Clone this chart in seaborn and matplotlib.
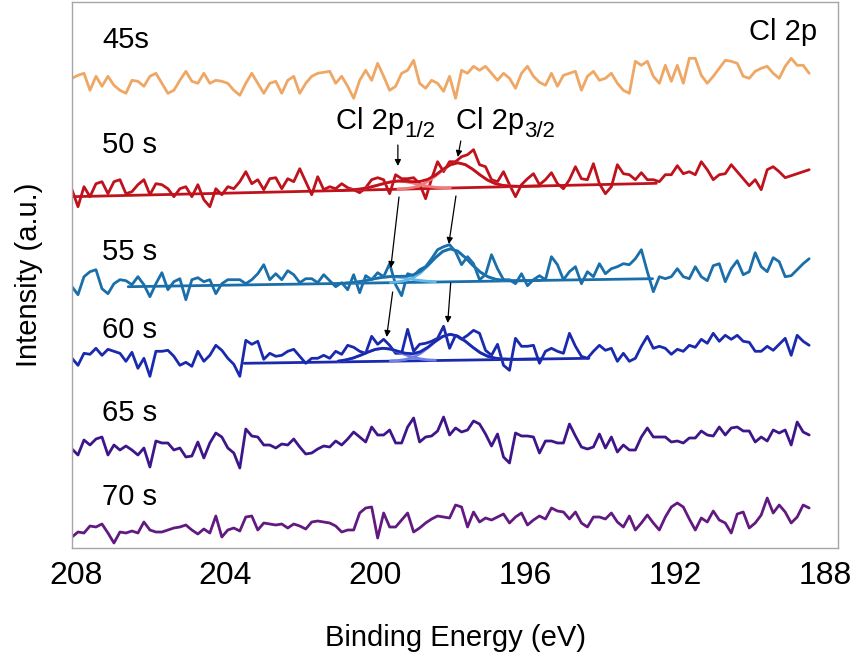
import numpy as np
import matplotlib
matplotlib.use("Agg")
import matplotlib.pyplot as plt
import seaborn as sns

# binding energy grid of the spectra (eV)
energy = np.round(208.1 - 0.16 * np.arange(124), 2)

# stacked spectra, counts above each trace's reference level (a.u.)
s45 = [5, 8, 10, -7, 7, -3, 7, -2, -7, -10, 3, 2, -3, 7, 10, 0, -10, -7, 3, 12, 2, 0, 10, 0, 3, 2, 0, -7, -12, 0,
       10, 0, -10, 0, 2, -10, 3, 7, -10, 0, 7, 10, 11, 12, 0, 7, -3, -15, 3, 13, 3, 20, 7, -7, -3, 10, 13, 23, 0, -5,
       3, 0, -8, 7, -15, 13, 10, 17, 13, 17, 10, 3, 10, 5, -5, 10, 17, 7, 1, -2, 10, -3, 8, 10, 12, -7, 7, 12, 3, 5,
       10, 0, -7, -10, 22, 18, 22, 7, 0, 18, 2, 18, 0, 25, 25, 8, 0, 7, 15, 23, 22, 20, 7, 5, 12, 15, 17, 10, 5, 17,
       25, 18, 18, 10]
s50 = [7, -10, 10, 0, 13, 15, 3, 15, 17, 3, 5, 12, 17, 2, 13, 12, 8, 0, 8, 10, 0, 12, -3, -10, 8, 2, 10, 8, 15, 25,
       13, 17, 7, 18, 19, 8, 18, 15, 28, 15, 2, 20, 7, 10, 8, 13, 9, 7, 4, 9, 17, 19, 17, 3, 22, 18, 18, 19, 13, -2,
       18, 35, 25, 35, 35, 40, 42, 47, 32, 30, 17, 15, 25, 12, 0, 12, 18, 23, 12, 17, 24, 13, 8, 17, 30, 18, 17, 33, 13, 3,
       10, 32, 23, 22, 17, 24, 17, 17, 15, 22, 22, 31, 23, 25, 22, 35, 27, 17, 22, 23, 32, 25, 18, 11, 17, 7, 27, 30, 25, 19,
       21, 23, 25, 27]
s55 = [0, -8, 10, 15, 17, -2, -7, 3, 7, 6, 2, 10, 2, -10, 3, 14, -3, 5, 8, -13, 7, 9, 5, 7, -7, 3, 7, 7, 7, 3,
       7, 13, 22, 7, 13, 7, 16, 12, 4, 8, 8, 4, 12, 6, 0, 4, -3, 12, -6, 11, 7, 14, 10, 23, 2, -9, 13, 11, 17, 20,
       28, 37, 40, 42, 35, 22, 30, 23, 7, 12, 32, 18, 7, 7, 3, 13, 1, 7, 11, 7, 30, 22, 7, 15, 20, 3, 15, 10, 23, 13,
       18, 20, 23, 22, 28, 37, 15, -5, 10, 8, 10, 18, 10, 8, 20, 10, 6, 21, 23, 5, 18, 26, 12, 15, 34, 20, 15, 29, 25, 10,
       11, 17, 23, 28]
s60 = [5, -2, 10, 9, 15, 8, 14, 12, 10, 2, 11, -5, 5, -13, 12, 12, 13, 7, -2, 1, -3, 12, 2, 8, 18, 13, 5, -1, -13, 23,
       19, 22, 4, 10, 7, 8, 12, 14, 7, 0, 5, 5, 8, 5, 12, 9, 18, 16, 12, 10, 27, 19, 24, 18, 10, 10, 34, 12, 19, 20,
       22, 25, 37, 15, 28, 24, 28, 33, 30, 13, 8, 19, -2, -7, 25, 17, 17, 18, 0, 12, 15, 12, 10, 30, 17, 7, 5, 12, 18, 13,
       15, 2, 10, 2, 5, 17, 27, 15, 17, 15, 9, 14, 12, 18, 16, 24, 20, 30, 22, 28, 24, 28, 22, 21, 12, 12, 17, 13, 19, 25,
       8, 28, 22, 18]
s65 = [1, -5, 10, 5, 11, 13, -5, 5, 0, 4, 0, -5, 2, -17, 9, 7, 7, 0, 2, -7, -6, 8, -8, 7, 17, 13, 2, -3, -18, 21,
       14, 13, 5, 5, 2, 6, 5, 11, 3, -4, -3, 1, 4, 3, 9, 5, 11, 18, 13, 8, 23, 15, 15, 20, 7, 7, 23, 32, 8, 13,
       14, 19, 33, 15, 22, 18, 20, 29, 26, 16, 4, 16, -7, -13, 17, 14, 14, 13, -3, 9, 9, 7, 7, 26, 14, 3, 1, 3, 16, 2,
       13, -2, 5, 0, 0, 13, 22, 13, 13, 13, 8, 9, 7, 12, 12, 19, 15, 14, 23, 15, 22, 23, 19, 19, 8, 13, 9, 20, 17, 20,
       5, 28, 18, 15]
s70 = [-7, -2, -3, 4, 3, 6, -3, -13, -2, -3, -1, -3, 8, 0, -2, -2, 0, 2, 3, 5, 0, -4, 1, -3, 14, -7, 0, 2, -1, 13,
       14, 0, 7, 6, 5, 6, 2, 6, 4, 1, 8, 9, 8, 7, 4, -2, 0, 0, 17, 22, 23, -8, 17, 3, 3, 10, 17, -2, 2, 7,
       11, 14, 13, 12, 25, 23, 3, 18, 8, 12, 10, 13, 16, 7, 13, 17, 5, 10, 14, 11, 22, 19, 18, 11, 18, 7, 3, 13, 13, 11,
       17, 8, 3, 14, 0, 7, 15, 7, 0, 13, 23, 27, 23, 11, 0, 12, 8, 19, 10, 7, -3, 16, 18, 2, 7, 15, 32, 17, 25, 18,
       7, 13, 25, 22]

labels = ["45s", "50 s", "55 s", "60 s", "65 s", "70 s"]
offsets = [464.7, 351.3, 261.3, 184.7, 98.0, 18.0]
colors = ["#EFA765", "#C0121C", "#1A6EAA", "#1A2AAE", "#3E1689", "#621A80"]
light = [None, "#F07A7A", "#62B8E8", "#6F80E6", None, None]
label_y = [508, 403, 296, 218, 135, 51]

# peak fits (50 s, 55 s, 60 s): linear background end points and components
fit_energy = np.round(201.0 - 0.2 * np.arange(28), 1)
bg_ends = {1: ([208.1, 192.5], [0, 13.4]), 2: ([206.6, 192.6], [0, 8.0]), 3: ([203.5, 194.3], [0, 5.0])}
bg_fit = {
    1: [6.1, 6.3, 6.4, 6.6, 6.8, 7.0, 7.1, 7.3, 7.5, 7.6, 7.8, 8.0, 8.2, 8.3, 8.5, 8.7, 8.9, 9.0, 9.2, 9.4,
        9.5, 9.7, 9.9, 10.1, 10.2, 10.4, 10.6, 10.7],
    2: [3.2, 3.3, 3.4, 3.5, 3.7, 3.8, 3.9, 4.0, 4.1, 4.2, 4.3, 4.5, 4.6, 4.7, 4.8, 4.9, 5.0, 5.1, 5.3, 5.4,
        5.5, 5.6, 5.7, 5.8, 5.9, 6.1, 6.2, 6.3],
    3: [1.4, 1.5, 1.6, 1.7, 1.8, 1.9, 2.0, 2.1, 2.2, 2.3, 2.5, 2.6, 2.7, 2.8, 2.9, 3.0, 3.1, 3.2, 3.3, 3.4,
        3.5, 3.6, 3.8, 3.9, 4.0, 4.1, 4.2, 4.3],
}
p12 = {
    1: [0, 0.2, 0.5, 1.1, 2.2, 3.9, 5.8, 7.4, 8.0, 7.4, 5.8, 3.9, 2.2, 1.1, 0.5, 0.2, 0, 0, 0, 0, 0, 0, 0, 0, 0, 0, 0, 0],
    2: [0, 0.3, 0.8, 1.7, 2.9, 4.4, 5.5, 6.0, 5.5, 4.4, 2.9, 1.7, 0.8, 0.3, 0, 0, 0, 0, 0, 0, 0, 0, 0, 0, 0, 0, 0, 0],
    3: [0.7, 1.8, 3.6, 6.3, 9.4, 12.0, 13.0, 12.0, 9.4, 6.3, 3.6, 1.8, 0.7, 0.3, 0, 0, 0, 0, 0, 0, 0, 0, 0, 0, 0, 0, 0, 0],
}
p32 = {
    1: [0, 0, 0, 0, 0, 0, 0, 0, 0.2, 0.5, 1.4, 3.4, 7.0, 12.2, 18.2, 23.1, 25.0, 23.1, 18.2, 12.2, 7.0, 3.4, 1.4, 0.5,
        0.2, 0, 0, 0],
    2: [0, 0, 0, 0, 0, 0, 0, 0.2, 0.7, 1.9, 4.5, 9.2, 16.1, 24.0, 30.5, 33.0, 30.5, 24.0, 16.1, 9.2, 4.5, 1.9, 0.7, 0.2,
        0, 0, 0, 0],
    3: [0, 0, 0, 0, 0, 0, 0, 0.2, 0.5, 1.5, 3.5, 7.2, 12.7, 18.9, 24.0, 26.0, 24.0, 18.9, 12.7, 7.2, 3.5, 1.5, 0.5, 0.2,
        0, 0, 0, 0],
}

sns.set_style("white")
plt.rcParams["font.family"] = ["Liberation Sans", "DejaVu Sans"]
plt.rcParams["text.color"] = "black"
plt.rcParams["axes.labelcolor"] = "black"

fig = plt.figure(figsize=(8.55, 6.58), dpi=100)
ax = fig.add_axes([72 / 855, 110 / 658, 766 / 855, 546 / 658])

for n, spec in enumerate([s45, s50, s55, s60, s65, s70]):
    y = np.array(spec, dtype=float) + offsets[n]
    sns.lineplot(x=energy, y=y, ax=ax, color=colors[n], lw=2, estimator=None, sort=False)
    ax.text(207.3, label_y[n], labels[n], fontsize=21, va="center", ha="left")
    if n in bg_ends:
        be, bv = bg_ends[n]
        sns.lineplot(x=be, y=np.array(bv) + offsets[n], ax=ax, color=colors[n], lw=2, estimator=None, sort=False)
        bgf = np.array(bg_fit[n]) + offsets[n]
        for comp in (p12[n], p32[n]):
            comp = np.array(comp)
            m = comp > 0
            sns.lineplot(x=fit_energy[m], y=bgf[m] + comp[m], ax=ax, color=light[n], lw=2,
                         estimator=None, sort=False)
        env = bgf + np.array(p12[n]) + np.array(p32[n])
        sns.lineplot(x=fit_energy, y=env, ax=ax, color=colors[n], lw=2, estimator=None, sort=False)

# peak labels with larger subscripts
for xe, sub in [(201.04, "1/2"), (197.85, "3/2")]:
    t = ax.text(xe, 427, "Cl 2p", fontsize=21, ha="left", va="center")
    ax.annotate(sub, xy=(1.0, 0.12), xycoords=t, fontsize=16, ha="left", va="center")

arr = dict(arrowstyle="-|>", color="black", lw=0.9, mutation_scale=9, shrinkA=0, shrinkB=0)
ax.annotate("", xy=(199.40, 382), xytext=(199.40, 403), arrowprops=arr)
ax.annotate("", xy=(197.80, 391), xytext=(197.72, 407), arrowprops=arr)
ax.annotate("", xy=(199.59, 280), xytext=(199.37, 351), arrowprops=arr)
ax.annotate("", xy=(198.04, 304), xytext=(197.85, 352), arrowprops=arr)
ax.annotate("", xy=(199.70, 211), xytext=(199.54, 256), arrowprops=arr)
ax.annotate("", xy=(198.07, 225), xytext=(197.99, 265), arrowprops=arr)
ax.text(188.2, 516, "Cl 2p", fontsize=21, ha="right", va="center")

ax.set_xlim(208.1, 187.65)
ax.set_ylim(0, 546)
ax.set_xticks([208, 204, 200, 196, 192, 188])
ax.set_yticks([])
ax.tick_params(axis="x", labelsize=23, length=5, color="#888888", labelcolor="black", pad=4)
for sp in ax.spines.values():
    sp.set_color("#A6A6A6")
    sp.set_linewidth(1)
ax.set_xlabel("Binding Energy (eV)", fontsize=21, labelpad=24)
ax.set_ylabel("Intensity (a.u.)", fontsize=21, labelpad=21)

fig.savefig("out.png", dpi=100)
